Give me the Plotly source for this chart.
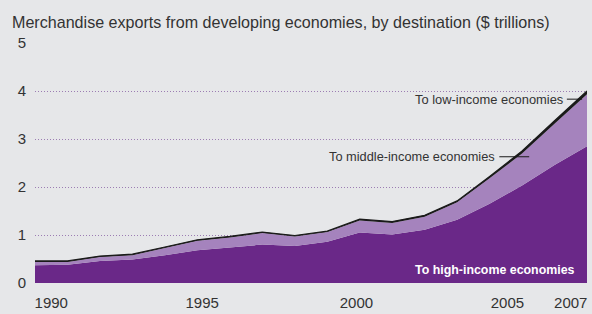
import plotly.graph_objects as go

years = list(range(1990, 2008))
total = [0.46, 0.46, 0.56, 0.60, 0.75, 0.90, 0.97, 1.06, 0.99, 1.08,
         1.33, 1.28, 1.41, 1.71, 2.22, 2.75, 3.38, 4.00]
high_income = [0.37, 0.38, 0.46, 0.49, 0.58, 0.68, 0.74, 0.80, 0.77, 0.86,
               1.05, 1.01, 1.11, 1.32, 1.65, 2.03, 2.46, 2.85]
low_income = [0.02, 0.02, 0.02, 0.02, 0.02, 0.02, 0.02, 0.02, 0.02, 0.02,
              0.03, 0.03, 0.03, 0.03, 0.04, 0.05, 0.06, 0.07]
middle_income = [round(t - h - l, 3) for t, h, l in zip(total, high_income, low_income)]

tick_vals = [1990.5, 1995.15, 1999.9, 2004.55, 2006.5]
tick_text = ["1990", "1995", "2000", "2005", "2007"]
y_ticks = [0, 1, 2, 3, 4, 5]

BG = "#E6E7E9"
DARK = "#6A2888"
LIGHT = "#A583BD"
TEXT = "#333333"
FONT = "Liberation Sans"

fig = go.Figure()
fig.add_trace(go.Scatter(x=years, y=high_income, stackgroup="s", mode="lines",
                         line=dict(width=0, color=DARK), fillcolor=DARK,
                         name="To high-income economies"))
fig.add_trace(go.Scatter(x=years, y=middle_income, stackgroup="s", mode="lines",
                         line=dict(width=0, color=LIGHT), fillcolor=LIGHT,
                         name="To middle-income economies"))
fig.add_trace(go.Scatter(x=years, y=low_income, stackgroup="s", mode="lines",
                         line=dict(width=1.2, color="#1a1a1a"), fillcolor="#1a1a1a",
                         name="To low-income economies"))

fig.update_layout(
    width=592, height=314,
    margin=dict(l=35, r=5, t=43, b=31, autoexpand=False),
    paper_bgcolor=BG, plot_bgcolor=BG,
    showlegend=False,
    font=dict(family=FONT, color=TEXT, size=14),
    xaxis=dict(range=[1990, 2007], tickvals=tick_vals, ticktext=tick_text,
               showgrid=False, zeroline=False, showline=False, ticks="",
               automargin=False,
               tickfont=dict(size=15, color=TEXT), ticklabelstandoff=9),
    yaxis=dict(range=[0, 5], tickvals=y_ticks, showgrid=True,
               gridcolor="#9C7DB3", griddash="1px,2px", gridwidth=1,
               zeroline=False, showline=False, ticks="", automargin=False,
               tickfont=dict(size=15, color=TEXT), ticklabelstandoff=8),
)

fig.add_annotation(xref="paper", yref="paper", x=-0.045, y=1.0, yshift=21,
                   xanchor="left", yanchor="middle", showarrow=False,
                   text="Merchandise exports from developing economies, by destination ($ trillions)",
                   font=dict(size=16.1, color=TEXT, family=FONT))

fig.add_annotation(x=2006.32, y=3.83, xanchor="right", yanchor="middle",
                   showarrow=False, text="To low-income economies",
                   font=dict(size=12.9, color=TEXT, family=FONT))
fig.add_shape(type="line", x0=2006.38, x1=2006.85, y0=3.83, y1=3.83,
              line=dict(color="#1a1a1a", width=1))

fig.add_annotation(x=2004.23, y=2.63, xanchor="right", yanchor="middle",
                   showarrow=False, text="To middle-income economies",
                   font=dict(size=12.8, color=TEXT, family=FONT))
fig.add_shape(type="line", x0=2004.3, x1=2005.22, y0=2.63, y1=2.63,
              line=dict(color="#1a1a1a", width=1))

fig.add_annotation(x=2006.7, y=0.28, xanchor="right", yanchor="middle",
                   showarrow=False, text="<b>To high-income economies</b>",
                   font=dict(size=12.4, color="white", family=FONT))

fig.write_html("out.html", config={"displayModeBar": False},
               post_script="document.body.style.margin='0';")
